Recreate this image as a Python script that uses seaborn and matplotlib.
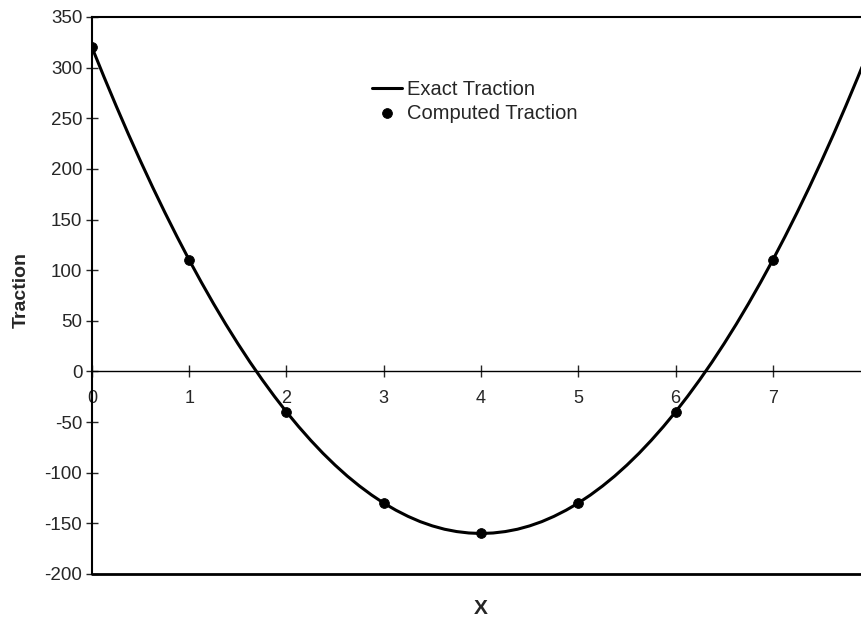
import numpy as np
import pandas as pd
import seaborn as sns
import matplotlib.pyplot as plt

# exact traction curve at 0.125 steps
x_exact = [0, 0.125, 0.25, 0.375, 0.5, 0.625, 0.75, 0.875, 1, 1.125, 1.25, 1.375, 1.5, 1.625, 1.75, 1.875,
           2, 2.125, 2.25, 2.375, 2.5, 2.625, 2.75, 2.875, 3, 3.125, 3.25, 3.375, 3.5, 3.625, 3.75, 3.875,
           4, 4.125, 4.25, 4.375, 4.5, 4.625, 4.75, 4.875, 5, 5.125, 5.25, 5.375, 5.5, 5.625, 5.75, 5.875,
           6, 6.125, 6.25, 6.375, 6.5, 6.625, 6.75, 6.875, 7, 7.125, 7.25, 7.375, 7.5, 7.625, 7.75, 7.875, 8]
y_exact = [320, 290.5, 261.9, 234.2, 207.5, 181.7, 156.9, 133.0, 110, 88.0, 66.9, 46.7, 27.5, 9.2, -8.1, -24.5,
           -40, -54.5, -68.1, -80.8, -92.5, -103.3, -113.1, -122.0, -130, -137.0, -143.1, -148.3, -152.5, -155.8, -158.1, -159.5,
           -160, -159.5, -158.1, -155.8, -152.5, -148.3, -143.1, -137.0, -130, -122.0, -113.1, -103.3, -92.5, -80.8, -68.1, -54.5,
           -40, -24.5, -8.1, 9.2, 27.5, 46.7, 66.9, 88.0, 110, 133.0, 156.9, 181.7, 207.5, 234.2, 261.9, 290.5, 320]

# computed traction points
x_comp = [0, 1, 2, 3, 4, 5, 6, 7]
y_comp = [320, 110, -40, -130, -160, -130, -40, 110]

sns.set_style('white')
plt.rcParams['font.family'] = ['Liberation Sans', 'DejaVu Sans']
plt.rcParams['axes.unicode_minus'] = False

fig = plt.figure(figsize=(8.62, 6.18), dpi=100)
ax = fig.add_axes([0.1067, 0.0712, 0.9026, 0.9013])

df_exact = pd.DataFrame({'x': x_exact, 'y': y_exact})
df_comp = pd.DataFrame({'x': x_comp, 'y': y_comp})
sns.lineplot(data=df_exact, x='x', y='y', color='black', lw=2.2, ax=ax,
             label='Exact Traction', zorder=3)
sns.scatterplot(data=df_comp, x='x', y='y', color='black', s=50, ax=ax,
                label='Computed Traction', zorder=4, edgecolor='black')

ax.set_xlim(0, 8)
ax.set_ylim(-200, 350)
ax.set_yticks(np.arange(-200, 351, 50))
ax.set_xticks(x_comp)

for s in ['left', 'top', 'bottom']:
    ax.spines[s].set_color('black')
    ax.spines[s].set_linewidth(1.5)
ax.spines['right'].set_visible(False)
ax.spines['bottom'].set_position(('data', 0))
ax.spines['bottom'].set_linewidth(1)
ax.axhline(-200, color='black', lw=2, clip_on=False)

ax.tick_params(axis='y', direction='inout', length=8, width=1, labelsize=13.5, left=True, pad=3)
ax.tick_params(axis='x', direction='inout', length=8, width=1, labelsize=13, pad=9, bottom=True)

ax.set_xlabel('X', fontsize=15, fontweight='bold', labelpad=0)
ax.xaxis.set_label_coords(0.5, -0.045)
ax.set_ylabel('Traction', fontsize=14, fontweight='bold', labelpad=10)
ax.yaxis.set_label_coords(-0.08, 0.51)

ax.legend(loc='upper left', bbox_to_anchor=(0.336, 0.92), frameon=False,
          fontsize=14.5, handlelength=1.5, handletextpad=0.25, labelspacing=0.25)

fig.savefig('out.png', dpi=100)
